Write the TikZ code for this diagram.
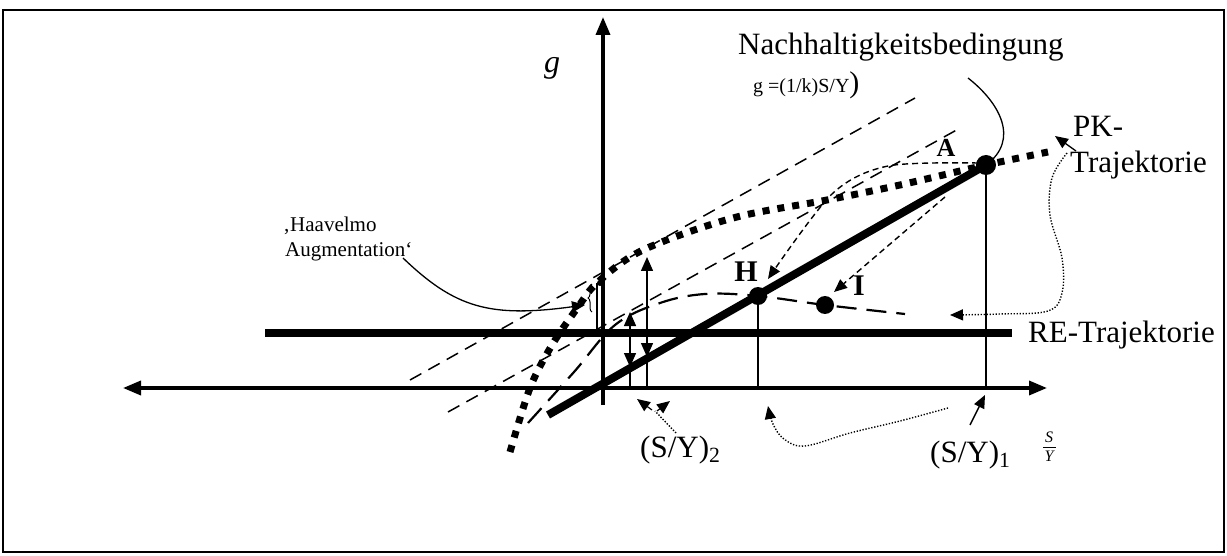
\documentclass[tikz,border=0pt]{standalone}
\usepackage{fontspec}
\setmainfont{Liberation Serif}
\usetikzlibrary{arrows.meta,decorations.pathreplacing}
\begin{document}
\begin{tikzpicture}[x=1pt,y=-1pt,
  tipa/.style={-{Triangle[length=13pt,width=11pt]}},
  axisline/.style={line width=3.5pt},
  heavy/.style={line width=8pt},
  pkline/.style={line width=7pt, dash pattern=on 7pt off 8pt},
  guide/.style={line width=1.5pt, dash pattern=on 13pt off 8pt},
  hump/.style={line width=2.2pt, dash pattern=on 20pt off 10pt},
  sdash/.style={line width=1.4pt, dash pattern=on 6pt off 4pt},
  fine/.style={line width=1.4pt},
  dotline/.style={line width=1.4pt, dash pattern=on 1.3pt off 1.7pt},
  dot/.style={circle, fill=black, inner sep=0pt, minimum size=#1},
  lbl/.style={inner sep=0pt, anchor=base west, font=\fontsize{31}{36}\selectfont},
  bold/.style={inner sep=0pt, font=\fontsize{#1}{#1}\selectfont\bfseries},
  fracpart/.style={inner sep=0pt, font=\fontsize{16}{18}\selectfont\itshape}
]
\useasboundingbox (0,0) rectangle (1227,556);
\draw[line width=2pt] (3,10) rectangle (1224,552);

% coordinates
\coordinate (Ytop) at (603,17);
\coordinate (Ybot) at (603,405);
\coordinate (Xl) at (123,388);
\coordinate (Xr) at (1047,388);
\coordinate (REl) at (265,333);
\coordinate (REr) at (1012,333);
\coordinate (Sl) at (548,415);
\coordinate (L1a) at (410,380);
\coordinate (L1b) at (915,98);
\coordinate (L2a) at (448,412);
\coordinate (L2b) at (962,127);

% dashed guide lines
\draw[guide] (L1a) -- (L1b);
\draw[guide] (L2a) -- (L2b);

% hump dashed curve
\draw[hump] plot[smooth, tension=0.6] coordinates {(528,423) (574,372) (615,325) (660,303) (705,294) (758,296) (825,305) (905,314)};

% axes
\draw[axisline, -{Triangle[length=18pt,width=14pt]}] (Ybot) -- (Ytop);
\draw[axisline, {Triangle[length=18pt,width=14pt]}-{Triangle[length=18pt,width=14pt]}] (Xl) -- (Xr);

% RE trajectory
\draw[heavy] (REl) -- (REr);

% dots
\node[dot=20pt] (A) at (986,165) {};
\node[dot=18pt] (H) at (758,296) {};
\node[dot=18pt] (I) at (825,305) {};
\node[dot=6pt] (B) at (600,283) {};

% sustainability line
\draw[heavy] (Sl) -- (A.center);

% vertical guides
\coordinate (S1) at (986,390);
\coordinate (S0) at (758,388);
\draw[fine] (A.center) -- (S1);
\draw[fine] (H.center) -- (S0);
\coordinate (V1t) at (630,312); \coordinate (V1m) at (630,367); \coordinate (V1b) at (630,388);
\coordinate (V2t) at (647,257); \coordinate (V2m) at (647,357); \coordinate (V2b) at (647,388);
\draw[fine] (V1m) -- (V1b);
\draw[fine] (V2m) -- (V2b);
\draw[fine, {Triangle[length=14pt,width=12pt]}-{Triangle[length=14pt,width=12pt]}] (V1t) -- (V1m);
\draw[fine, {Triangle[length=14pt,width=12pt]}-{Triangle[length=14pt,width=12pt]}] (V2t) -- (V2m);
\coordinate (Bb) at (597,333);
\draw[line width=1.2pt] (597,283) -- (Bb);
\draw[line width=1pt, decorate, decoration={brace, amplitude=4pt}] (592,312) -- (592,284);

% PK trajectory (thick dotted)
\draw[pkline] plot[smooth, tension=0.55] coordinates {(510,452) (530,388) (552,345) (578,307) (598,282) (643,250) (733,218) (827,200) (900,185) (986,165) (1048,152)};

% dashed arrows to H and I
\draw[sdash, -{Triangle[length=13pt,width=11pt]}] plot[smooth, tension=0.5] coordinates {(978,163) (888,166) (832,194) (768,279)};
\coordinate (Ist) at (945,197);
\draw[sdash, -{Triangle[length=13pt,width=11pt]}] (Ist) -- (834,292);

% pointer curves
\coordinate (NBs) at (968,78);
\draw[line width=1.3pt] (NBs) .. controls (1000,103) and (1020,140) .. (A.center);
\coordinate (HAs) at (403,258);
\coordinate (HAe) at (585,305);
\draw[line width=1.3pt, tipa] (HAs) .. controls (455,308) and (490,318) .. (HAe);

% PK small arrow
\coordinate (PKs) at (1076,151);
\coordinate (PKe) at (1055,136);
\draw[line width=1.3pt, tipa] (PKs) -- (PKe);

% dotted arrows
\draw[dotline, tipa] plot[smooth, tension=0.6] coordinates {(1067,153) (1052,178) (1050,215) (1062,258) (1062,293) (1048,311) (1000,314) (950,315)};
\draw[dotline, tipa] plot[smooth, tension=0.6] coordinates {(948,408) (900,421) (850,433) (805,446) (784,439) (773,424) (768,406)};
\coordinate (SY2a) at (676,433);
\coordinate (SY2b) at (655,411);
\draw[dotline] (SY2a) -- (SY2b);
\draw[line width=1.2pt, tipa] (652,410) -- (637,399);
\draw[line width=1.2pt, tipa] (657,411) -- (670,401);
\coordinate (SY1a) at (970,425);
\coordinate (SY1b) at (985,395);
\draw[line width=1.4pt, tipa] (SY1a) -- (SY1b);

% labels
\node[lbl, font=\fontsize{32}{36}\selectfont\itshape] (g) at (544,73) {g};
\node[lbl] (NB) at (738,55) {Nachhaltigkeitsbedingung};
\node[inner sep=0pt, anchor=base west] (eq) at (753,93) {{\fontsize{20}{24}\selectfont g =(1/k)S/Y}{\fontsize{30}{34}\selectfont )}};
\node[lbl] (PK1) at (1073,137) {PK-};
\node[lbl] (PK2) at (1070,173) {Trajektorie};
\node[lbl] (RE) at (1028,342) {RE-Trajektorie};
\node[inner sep=0pt, anchor=base west, font=\fontsize{21}{25}\selectfont] (HA1) at (283,232) {‚Haavelmo};
\node[inner sep=0pt, anchor=base west, font=\fontsize{21}{25}\selectfont] (HA2) at (285,257) {Augmentation‘};
\node[lbl] (SY2) at (640,457) {(S/Y)\textsubscript{2}};
\node[lbl] (SY1) at (930,462) {(S/Y)\textsubscript{1}};
\node[fracpart, anchor=base] (fracS) at (1049,442) {S};
\node[fracpart, anchor=base] (fracY) at (1049,461) {Y};
\draw[line width=0.8pt] (1043,447) -- (1056,447);
\node[bold=26] (Alab) at (946,148) {A};
\node[bold=30] (Hlab) at (746,272) {H};
\node[bold=30] (Ilab) at (859,286) {I};
\end{tikzpicture}
\end{document}
